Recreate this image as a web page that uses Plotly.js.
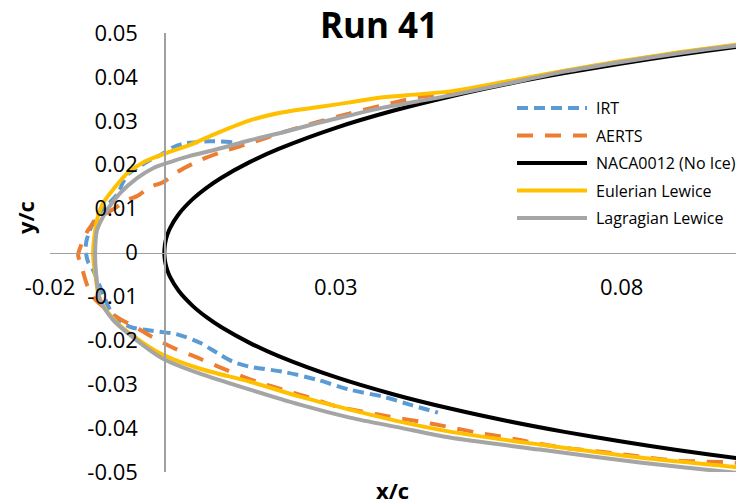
<!DOCTYPE html>
<html>
<head>
<meta charset="utf-8">
<script src="https://cdn.plot.ly/plotly-3.0.1.min.js"></script>
<style>html,body{margin:0;padding:0;background:#fff}#chart{width:739px;height:504px}</style>
</head>
<body>
<div id="chart"></div>
<script>
const seriesNames = ['IRT', 'AERTS', 'NACA0012 (No Ice)', 'Eulerian Lewice', 'Lagragian Lewice'];

const irtX = [0.01187,0.00803,0.00575,0.00365,0.00155,-0.00075,-0.00285,-0.00477,-0.00635,-0.00722,-0.00809,-0.00949,-0.01106,-0.01229,-0.01316,-0.01369,-0.01369,-0.01334,-0.01246,-0.01159,-0.01054,-0.00949,-0.00809,-0.00600,-0.00337,-0.00075,0.00187,0.00365,0.00624,0.00921,0.01201,0.01498,0.02075,0.02670,0.03246,0.03824,0.04296,0.04785];
const irtY = [0.02511,0.02534,0.02511,0.02489,0.02398,0.02216,0.02080,0.01920,0.01784,0.01602,0.01352,0.01148,0.00943,0.00716,0.00466,0.00216,-0.00011,-0.00216,-0.00398,-0.00670,-0.01011,-0.01307,-0.01534,-0.01693,-0.01761,-0.01807,-0.01852,-0.01920,-0.02057,-0.02284,-0.02489,-0.02602,-0.02716,-0.02898,-0.03125,-0.03284,-0.03466,-0.03648];

const aertsX = [0.11,0.1,0.09,0.08,0.07,0.06,0.05002,0.04418,0.03824,0.03247,0.02670,0.02075,0.01498,0.01096,0.00624,0.00222,-0.00023,-0.00250,-0.00477,-0.00652,-0.00862,-0.01037,-0.01194,-0.01334,-0.01421,-0.01474,-0.01509,-0.01474,-0.01421,-0.01351,-0.01246,-0.01089,-0.00914,-0.00722,-0.00477,-0.00250,0.00152,0.00624,0.01114,0.01621,0.02075,0.02547,0.03019,0.03474,0.03946,0.04470,0.04943,0.05467,0.05992,0.06447,0.06971,0.07443,0.07915,0.08440,0.08964,0.09418,0.09943,0.11];
const aertsY = [0.0487,0.0472,0.0455,0.0435,0.0413,0.0388,0.0364,0.03530,0.03352,0.03170,0.02966,0.02739,0.02489,0.02330,0.02102,0.01830,0.01602,0.01489,0.01284,0.01193,0.01011,0.00875,0.00739,0.00511,0.00284,0.00102,-0.00057,-0.00216,-0.00443,-0.00739,-0.01011,-0.01216,-0.01398,-0.01557,-0.01716,-0.01898,-0.02170,-0.02420,-0.02693,-0.02943,-0.03125,-0.03307,-0.03511,-0.03625,-0.03739,-0.03852,-0.03966,-0.04102,-0.04216,-0.04330,-0.04443,-0.04511,-0.04580,-0.04670,-0.04739,-0.04761,-0.04784,-0.0493];

const nacaX = [0.11,0.1,0.09,0.08,0.07,0.06,0.05,0.04,0.03,0.02,0.015,0.01,0.0075,0.005,0.0025,0.001,0.0005,0.00025,0.0001,0,0.0001,0.00025,0.0005,0.001,0.0025,0.005,0.0075,0.01,0.015,0.02,0.03,0.04,0.05,0.06,0.07,0.08,0.09,0.1,0.11];
const nacaY = [0.04843,0.04683,0.04505,0.04307,0.04086,0.03838,0.03555,0.03228,0.02840,0.02360,0.02064,0.01704,0.01485,0.01221,0.00872,0.00556,0.00395,0.00280,0.00177,0,-0.00177,-0.00280,-0.00395,-0.00556,-0.00872,-0.01221,-0.01485,-0.01704,-0.02064,-0.02360,-0.02840,-0.03228,-0.03555,-0.03838,-0.04086,-0.04307,-0.04505,-0.04683,-0.04843];

const eulerX = [0.11,0.1,0.09,0.08,0.07,0.06,0.05002,0.04418,0.03824,0.03247,0.02670,0.02075,0.01498,0.00921,0.00449,0.00152,-0.00075,-0.00372,-0.00652,-0.00862,-0.01072,-0.01177,-0.01247,-0.01211,-0.01124,-0.00827,-0.00372,-0.00023,0.00624,0.01498,0.02372,0.03246,0.04120,0.04995,0.06568,0.08316,0.1,0.11];
const eulerY = [0.0488,0.0473,0.0456,0.0436,0.0414,0.0390,0.0367,0.03602,0.03534,0.03420,0.03307,0.03193,0.03011,0.02720,0.02450,0.02320,0.02210,0.02050,0.01800,0.01489,0.01125,0.00739,-0.0001,-0.00466,-0.01080,-0.01602,-0.02057,-0.02330,-0.02648,-0.02943,-0.03284,-0.03580,-0.03852,-0.04080,-0.04375,-0.04670,-0.0489,-0.0505];

const lagrX = [0.11,0.1,0.09,0.08,0.07,0.06,0.05002,0.04418,0.03824,0.03247,0.02670,0.02075,0.01498,0.00921,0.00449,0.00100,-0.00197,-0.00477,-0.00774,-0.01002,-0.01177,-0.01211,-0.01195,-0.01124,-0.00897,-0.00425,-0.00023,0.00624,0.01498,0.02372,0.03246,0.04120,0.04995,0.06568,0.08316,0.1,0.11];
const lagrY = [0.0486,0.0471,0.0454,0.0434,0.0412,0.0385,0.0358,0.03440,0.03300,0.03125,0.02943,0.02739,0.02557,0.02352,0.02200,0.02060,0.01920,0.01693,0.01352,0.00966,0.00511,0,-0.00466,-0.01080,-0.01534,-0.02057,-0.02420,-0.02761,-0.03125,-0.03466,-0.03761,-0.03989,-0.04216,-0.04489,-0.04784,-0.0502,-0.0517];

const xTickVals = [-0.02, 0.03, 0.08];
const xTickText = ['-0.02', '0.03', '0.08'];
const yTickVals = [0.05, 0.04, 0.03, 0.02, 0.01, 0, -0.01, -0.02, -0.03, -0.04, -0.05];
const yTickText = ['0.05', '0.04', '0.03', '0.02', '0.01', '0', '-0.01', '-0.02', '-0.03', '-0.04', '-0.05'];

const colors = ['#5B9BD5', '#ED7D31', '#000000', '#FFC000', '#A5A5A5'];
const dashes = ['11px,6px', '16px,12px', 'solid', 'solid', 'solid'];
const xs = [irtX, aertsX, nacaX, eulerX, lagrX];
const ys = [irtY, aertsY, nacaY, eulerY, lagrY];

const FONT = 'Open Sans, Liberation Sans, sans-serif';

const traces = seriesNames.map((n, i) => ({
  type: 'scatter', mode: 'lines', name: n,
  x: xs[i], y: ys[i],
  line: {color: colors[i], width: 4, dash: dashes[i], shape: 'spline', smoothing: 0.8},
  showlegend: false, hoverinfo: 'skip'
}));

const W = 739, H = 504, mL = 50, mR = 3, mT = 33, mB = 32;
const pw = W - mL - mR, ph = H - mT - mB;

const shapes = [];
const annotations = [];
seriesNames.forEach((n, i) => {
  const py = 108 + 27.5 * i;
  const yp = (H - mB - py) / ph;
  shapes.push({type: 'line', xref: 'paper', yref: 'paper',
    x0: (517 - mL) / pw, x1: (587 - mL) / pw, y0: yp, y1: yp,
    line: {color: colors[i], width: 4, dash: dashes[i]}});
  annotations.push({xref: 'paper', yref: 'paper', x: (594 - mL) / pw, y: yp,
    xanchor: 'left', yanchor: 'middle', text: n, showarrow: false,
    font: {family: FONT, size: 16, color: '#000'}});
});
annotations.push({xref: 'paper', yref: 'paper', x: (392 - mL) / pw, y: (H - mB - 490) / ph,
  xanchor: 'center', yanchor: 'middle', text: 'x/c', showarrow: false,
  font: {family: FONT, size: 22, color: '#000', weight: 'bold'}});
annotations.push({xref: 'paper', yref: 'paper', x: (25 - mL) / pw, y: (H - mB - 218) / ph,
  xanchor: 'center', yanchor: 'middle', text: 'y/c', showarrow: false, textangle: -90,
  font: {family: FONT, size: 22, color: '#000', weight: 'bold'}});

const layout = {
  width: W, height: H,
  margin: {l: mL, r: mR, t: mT, b: mB, pad: 0},
  paper_bgcolor: '#fff', plot_bgcolor: '#fff',
  showlegend: false,
  title: {text: 'Run 41', x: 379 / W, xanchor: 'center', xref: 'container',
    y: 1 - 26 / H, yanchor: 'middle', yref: 'container',
    font: {family: FONT, size: 35, color: '#000', weight: 'bold'}},
  xaxis: {range: [-0.02, 0.1], anchor: 'free', position: 0.5,
    showgrid: false, zeroline: false, showline: true, linecolor: '#A0A0A0', linewidth: 1.3,
    ticks: '', tickmode: 'array', tickvals: xTickVals, ticktext: xTickText,
    ticklabelstandoff: 15,
    tickfont: {family: FONT, size: 22, color: '#000'}},
  yaxis: {range: [-0.05, 0.05], anchor: 'free', position: 0.02 / 0.12,
    showgrid: false, zeroline: false, showline: true, linecolor: '#A0A0A0', linewidth: 1.3,
    ticks: '', tickmode: 'array', tickvals: yTickVals, ticktext: yTickText,
    ticklabelstandoff: 22,
    tickfont: {family: FONT, size: 22, color: '#000'}},
  shapes: shapes,
  annotations: annotations
};

Plotly.newPlot('chart', traces, layout, {staticPlot: true, displayModeBar: false});
</script>
</body>
</html>
